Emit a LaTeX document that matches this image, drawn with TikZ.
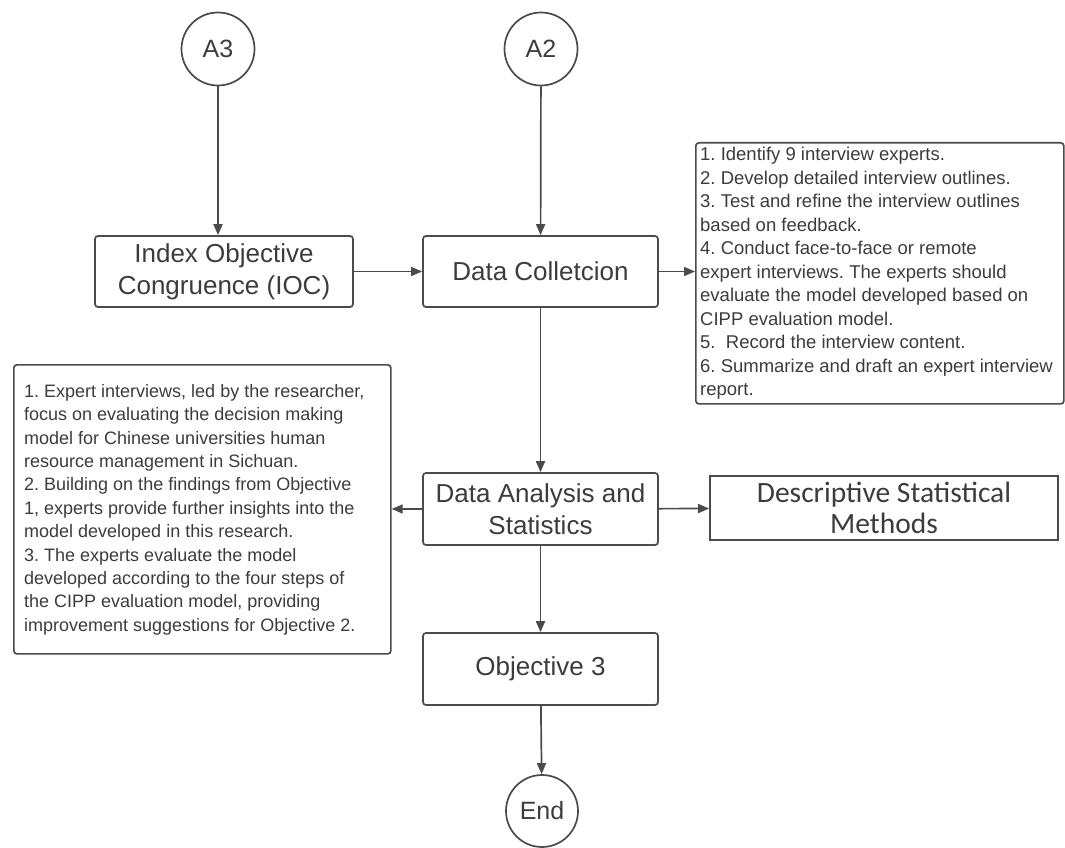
\documentclass[tikz,border=0pt]{standalone}
\usepackage{fontspec}
\setmainfont{Liberation Sans}
\newfontfamily\calfont{Carlito}
\usetikzlibrary{arrows.meta,calc}
\definecolor{ln}{RGB}{75,75,75}
\definecolor{tx}{RGB}{60,60,60}
\begin{document}
\frenchspacing
\begin{tikzpicture}[x=1pt,y=-1pt,
  every node/.style={text=tx},
  mainbox/.style={draw=ln,line width=1.7pt,rounded corners=3pt,fill=white,align=center,inner sep=0pt,
    font=\fontsize{26}{32}\selectfont},
  notebox/.style={draw=ln,line width=1.7pt,rounded corners=3pt,fill=white,align=left,anchor=north west,inner sep=0pt},
  notetext/.style={anchor=north west,align=left,inner sep=0pt,font=\fontsize{18.5}{23.5}\selectfont},
  circ/.style={draw=ln,line width=1.7pt,circle,minimum size=73pt,inner sep=0pt,font=\fontsize{25}{28}\selectfont},
  arr/.style={draw=ln,line width=1.7pt,-{Triangle[length=11pt,width=9pt]}}]
\useasboundingbox (0,0) rectangle (1065,848);
\fill[white] (0,0) rectangle (1065,848);

\node[circ] (A3) at (218,49) {A3};
\node[circ] (A2) at (541,49) {A2};
\node[circ,minimum size=72pt] (End) at (542,811) {End};

\node[mainbox,minimum width=258pt,minimum height=71pt] (ioc) at (224,271.5) {Index Objective\\Congruence (IOC)};
\node[mainbox,minimum width=235pt,minimum height=71pt] (dc) at (540.5,271.5) {Data Colletcion};
\node[mainbox,minimum width=235pt,minimum height=72pt] (da) at (540.5,509) {Data Analysis and\\Statistics};
\node[mainbox,minimum width=235pt,minimum height=72pt] (obj) at (540.5,669) {Objective 3};
\node[mainbox,rounded corners=0pt,minimum width=348pt,minimum height=64pt,font=\calfont\fontsize{29.5}{31}\selectfont] (desc) at (884,508) {Descriptive Statistical\\Methods};

\node[notebox,minimum width=368pt,minimum height=261pt] (rbox) at (695,142) {};
\node[notetext] (rtext) at (700,147) {%
1. Identify 9 interview experts.\\
2. Develop detailed interview outlines.\\
3. Test and refine the interview outlines\\
based on feedback.\\
4. Conduct face-to-face or remote\\
expert interviews. The experts should\\
evaluate the model developed based on\\
CIPP evaluation model.\\
5.\ \ Record the interview content.\\
6. Summarize and draft an expert interview\\
report.};

\node[notebox,minimum width=377pt,minimum height=289pt] (lbox) at (13,364) {};
\node[notetext,font=\fontsize{18}{23.4}\selectfont] (ltext) at (24,384) {%
1. Expert interviews, led by the researcher,\\
focus on evaluating the decision making\\
model for Chinese universities human\\
resource management in Sichuan.\\
2. Building on the findings from Objective\\
1, experts provide further insights into the\\
model developed in this research.\\
3. The experts evaluate the model\\
developed according to the four steps of\\
the CIPP evaluation model, providing\\
improvement suggestions for Objective 2.};

\draw[arr] (A3) -- (A3 |- ioc.north);
\draw[arr] (A2) -- (dc);
\draw[arr] (ioc) -- (dc);
\draw[arr] (dc.east) -- (dc.east -| rbox.west);
\draw[arr] (dc) -- (da);
\draw[arr] (da) -- (desc);
\draw[arr] (da.west) -- (da.west -| lbox.east);
\draw[arr] (da) -- (obj);
\draw[arr] (obj) -- (End);
\end{tikzpicture}
\end{document}
